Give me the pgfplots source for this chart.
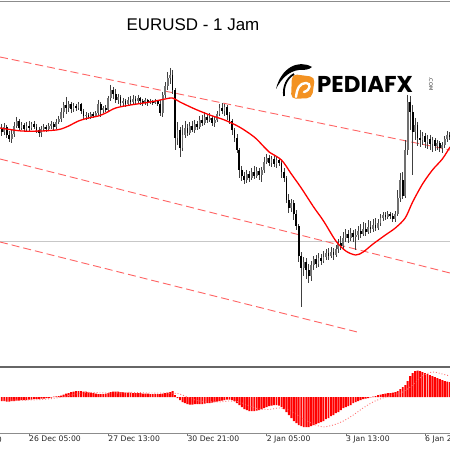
\documentclass[border=0pt]{standalone}
\usepackage{pgfplots}
\pgfplotsset{compat=1.18}
\usepackage{pgfplotstable}
\usepackage{fontspec}
\setmainfont{DejaVu Sans}
\newfontfamily\titlefont{Liberation Sans}
\newfontfamily\logofont{Poppins}
\definecolor{wick}{HTML}{404040}
\definecolor{bull}{HTML}{707070}
\definecolor{chan}{HTML}{FF6464}
\definecolor{logoorange}{HTML}{F39222}

% candles: bar index, open, high, low, close (chart pixel rows, top = 0)
\pgfplotstableread{
i o h l c
0 128 124 136 132
1 132 123 135 127
2 127 125 138 135
3 135 131 142 139
4 139 130 143 134
5 134 122 137 126
6 126 117 128 121
7 121 119 131 128
8 128 122 130 125
9 125 123 132 129
10 129 122 131 126
11 126 121 131 128
12 128 122 130 124
13 124 121 129 127
14 127 124 133 130
15 130 127 137 133
16 133 126 137 129
17 129 124 131 127
18 127 125 132 129
19 129 123 131 126
20 126 121 129 124
21 124 122 130 127
22 127 119 129 122
23 122 116 124 119
24 119 108 122 112
25 112 102 118 105
26 105 97 114 108
27 108 101 112 104
28 104 102 113 109
29 109 103 112 106
30 106 104 111 108
31 108 102 110 104
32 104 103 114 111
33 111 109 119 116
34 116 112 120 115
35 115 113 119 117
36 117 112 119 114
37 114 112 118 116
38 116 111 117 113
39 113 100 116 104
40 104 102 117 110
41 110 106 113 108
42 108 105 112 110
43 110 96 112 98
44 98 85 101 90
45 90 87 99 94
46 94 89 103 100
47 100 94 104 97
48 97 95 107 103
49 103 98 106 101
50 101 99 107 104
51 104 97 106 100
52 100 96 105 102
53 102 95 104 99
54 99 96 104 101
55 101 95 103 98
56 98 97 105 101
57 101 99 106 103
58 103 98 105 100
59 100 99 106 102
60 102 99 104 101
61 101 100 105 103
62 103 99 104 101
63 101 100 106 104
64 104 100 116 113
65 113 92 117 95
66 95 82 98 86
67 86 72 90 78
68 78 68 84 75
69 75 70 94 90
70 90 88 150 138
71 138 122 145 130
72 130 127 157 148
73 148 125 151 135
74 135 121 138 128
75 128 124 136 133
76 133 122 135 126
77 126 121 132 130
78 130 120 133 124
79 124 121 130 127
80 127 116 129 120
81 120 115 126 123
82 123 112 125 117
83 117 114 123 120
84 120 113 122 118
85 118 116 126 123
86 123 117 127 120
87 120 111 122 114
88 114 104 116 108
89 108 103 114 111
90 111 104 116 107
91 107 105 120 115
92 115 112 124 121
93 121 119 135 130
94 130 128 142 138
95 138 134 153 150
96 150 148 178 170
97 170 166 181 176
98 176 172 184 180
99 180 170 183 174
100 174 171 182 178
101 178 168 180 172
102 172 166 179 176
103 176 167 178 171
104 171 168 180 175
105 175 167 182 170
106 170 157 173 162
107 162 154 164 158
108 158 155 166 163
109 163 156 167 159
110 159 156 167 164
111 164 157 168 160
112 160 158 166 163
113 163 160 178 172
114 172 168 182 178
115 178 176 203 200
116 200 194 213 208
117 208 199 212 203
118 203 200 220 214
119 214 210 230 226
120 226 224 262 256
121 256 252 307 268
122 268 257 276 262
123 262 258 279 270
124 270 264 283 276
125 276 261 281 265
126 265 256 270 259
127 259 255 268 264
128 264 253 267 258
129 258 254 265 261
130 261 251 263 257
131 257 249 260 253
132 253 248 260 256
133 256 247 258 252
134 252 248 260 255
135 255 245 257 249
136 249 239 253 243
137 243 236 250 246
138 246 232 249 238
139 238 229 242 234
140 234 230 243 238
141 238 228 241 233
142 233 230 242 237
143 237 229 250 235
144 235 226 240 231
145 231 224 238 234
146 234 222 236 229
147 229 223 236 232
148 232 220 234 227
149 227 221 233 229
150 229 219 232 225
151 225 218 231 228
152 228 219 230 223
153 223 214 226 218
154 218 212 221 215
155 215 212 220 217
156 217 211 219 214
157 214 212 219 216
158 216 213 222 219
159 219 211 222 214
160 214 190 216 198
161 198 173 202 180
162 180 172 199 196
163 196 140 198 150
164 150 95 155 102
165 102 96 130 112
166 112 105 175 132
167 132 118 140 125
168 125 122 146 138
169 138 130 147 140
170 140 132 145 136
171 136 133 148 142
172 142 135 149 139
173 139 135 150 144
174 144 137 152 140
175 140 138 151 146
176 146 140 150 143
177 143 141 152 148
178 148 142 153 145
179 145 136 148 139
180 139 131 142 135
181 135 132 140 137
}\candles

\pgfplotstableread{
i y
-0.72 128
8 131
16 131
22 130
24 129
27 126
31 121
35 118
39 116
42 113
46 108
52 105
60 102
66 99
69 98
72 102
78 109
84 115
90 120
96 127
102 137
106 147
108 152
113 160
117 174
121 188
126 207
130 221
135 241
139 251
143 255
146 252
150 244
155 235
159 228
163 218
166 202
170 184
174 170
178 159
181.1 147
}\ma

\pgfplotstableread{
i m
0 -4
1 -4
2 -4.5
3 -4.5
4 -4
5 -4
6 -3.5
7 -3.5
8 -3
9 -3
10 -3
11 -2.5
12 -2.5
13 -2
14 -2
15 -2
16 -1.5
17 -1.5
18 -1
19 -1
20 -0.5
21 0.3
22 0.6
23 1
24 1.5
25 2.5
26 3.5
27 4
28 5
29 5.5
30 6
31 6
32 6
33 5.5
34 5.5
35 5
36 4.5
37 4
38 3.5
39 3
40 3
41 3
42 3.5
43 4
44 5
45 5.5
46 5.5
47 5.5
48 5
49 5
50 4.5
51 4.5
52 4.5
53 4
54 4
55 4
56 4
57 3.5
58 3.5
59 3.5
60 3
61 3
62 3
63 3
64 3
65 3.5
66 4
67 4.5
68 5
69 6
70 2
71 -1
72 -3
73 -5
74 -6
75 -7
76 -7.5
77 -7.5
78 -7
79 -7
80 -7
81 -7
82 -6.5
83 -6
84 -6
85 -5.5
86 -5
87 -4.5
88 -4
89 -3.5
90 -3
91 -2.5
92 -2.5
93 -3
94 -4
95 -6
96 -8
97 -10
98 -12
99 -13
100 -14
101 -14
102 -14
103 -13.5
104 -13
105 -12
106 -11
107 -10
108 -9
109 -8.5
110 -8
111 -8
112 -8.5
113 -10
114 -12
115 -15
116 -18
117 -21
118 -24
119 -26
120 -28
121 -29
122 -30
123 -30
124 -30
125 -29
126 -28
127 -27
128 -26
129 -25
130 -24
131 -22
132 -21
133 -19
134 -18
135 -16
136 -15
137 -13
138 -11
139 -10
140 -9
141 -8
142 -6
143 -5
144 -4
145 -3
146 -2
147 -1.5
148 -1
149 -0.4
150 0.5
151 1
152 2
153 2.5
154 3
155 3.5
156 4
157 4
158 4.5
159 5
160 6
161 8
162 10
163 12
164 16
165 21
166 24
167 26
168 26.5
169 26
170 25
171 24
172 23
173 22
174 21
175 20
176 19
177 18
178 17
179 16
180 15.5
181 15
}\macd

\pgfplotstableread{
i s
0 -3
8 -3.2
16 -2.5
22 -1
28 2
34 4.5
40 4.2
46 4
52 4.6
60 4
68 3.8
71 3.5
74 1
78 -3
82 -4.5
88 -5
92 -4
96 -5
100 -9
104 -12
108 -12.5
112 -11
116 -13
120 -19
124 -25
128 -29
130 -30
134 -28
138 -24
142 -18
146 -11
150 -5
154 -1
158 2
162 5
166 12
170 21
174 25
178 23
181 21
}\signal

\begin{document}
\begin{tikzpicture}
\useasboundingbox (0,0) rectangle (450bp,450bp);
\fill[white] (0,0) rectangle (450bp,450bp);

% price window
\begin{axis}[
  at={(0,84bp)}, anchor=south west,
  width=450bp, height=366bp, scale only axis,
  xmin=-0.72, xmax=181.1, ymin=0, ymax=366, y dir=reverse,
  axis lines=none, clip=true,
]
\addplot[black!22, line width=0.8bp] coordinates {(-0.72,241) (181.1,241)};
\addplot[chan, line width=0.9bp, dash pattern=on 8bp off 4bp] coordinates {(-0.72,57) (181.1,150)};
\addplot[chan, line width=0.9bp, dash pattern=on 8bp off 4bp] coordinates {(-0.72,159) (181.1,273)};
\addplot[chan, line width=0.9bp, dash pattern=on 8bp off 4bp] coordinates {(-0.72,242) (143.6,332)};
% wicks
\addplot[wick, line width=0.8bp, mark=none,
  quiver={u=0, v=\thisrow{l}-\thisrow{h}}] table[x=i, y=h] {\candles};
% bull bodies
\addplot[bull, line width=1.8bp, mark=none,
  restrict expr to domain={\thisrow{c}-\thisrow{o}}{-500:-0.1},
  quiver={u=0, v=\thisrow{c}-\thisrow{o}}] table[x=i, y=o] {\candles};
% bear bodies
\addplot[black, line width=1.8bp, mark=none,
  restrict expr to domain={\thisrow{c}-\thisrow{o}}{0.1:500},
  quiver={u=0, v=\thisrow{c}-\thisrow{o}}] table[x=i, y=o] {\candles};
% moving average
\addplot[red, line width=1.3bp, smooth] table[x=i, y=y] {\ma};
\end{axis}

% MACD window
\begin{axis}[
  at={(0,17bp)}, anchor=south west,
  width=450bp, height=66bp, scale only axis,
  xmin=-0.72, xmax=181.1, ymin=-36, ymax=30,
  axis y line=none, axis x line*=bottom,
  x axis line style={black!45, line width=0.6bp, -},
  xtick={11,43,75,107,139,171},
  xticklabels={26 Dec 05:00, 27 Dec 13:00, 30 Dec 21:00, 2 Jan 05:00, 3 Jan 13:00, 6 Jan 21:00},
  xtick align=outside, major tick length=3bp,
  tick style={black!55, line width=0.6bp},
  xticklabel style={anchor=north west, inner sep=0pt, text=black!85,
    font=\fontsize{7.7}{8}\selectfont},
  clip=false,
]
\addplot[ybar, bar width=1.9bp, fill=red, draw=none] table[x=i, y=m] {\macd};
\addplot[red!55, dotted, line width=0.9bp, smooth] table[x=i, y=s] {\signal};
\end{axis}

% frames
\draw[black!45, line width=1bp] (0,448bp) -- (450bp,448bp);
\draw[black!60, line width=2bp] (0,83bp) -- (450bp,83bp);
\node[anchor=north west, inner sep=0pt, text=black!85, font=\fontsize{7.7}{8}\selectfont]
  at (-50bp,13bp) {24 Dec 21:00};

% title
\node[font=\titlefont\fontsize{17}{20}\selectfont] at (193bp,425bp) {EURUSD - 1 Jam};

% logo
\begin{scope}[x=1bp, y=-1bp, shift={(0,450bp)}]
  \fill[logoorange, rounded corners=5bp] (291,99) -- (292,74) -- (315,77) -- (312,98) -- cycle;
  \draw[white, line width=2.4bp, line cap=round] (296,97) .. controls (297,88) and (300,83) .. (306,83) .. controls (311,83) and (311,90) .. (304,92);
  \fill[black] (312,67) .. controls (298,59) and (281,68) .. (276,89)
     .. controls (281,79) and (289,71) .. (299,70) .. controls (304,70) and (309,70) .. (312,67) -- cycle;
  \draw[black, line width=1.8bp] (284,96) .. controls (283,86) and (287,78) .. (294,74);
  \node[anchor=west, inner sep=0pt, font=\logofont\bfseries\fontsize{23}{24}\selectfont] at (317,84.5) {PEDIAFX};
  \node[rotate=-90, inner sep=0pt, font=\fontsize{5}{6}\selectfont, text=black!80] at (431,84) {.COM};
\end{scope}
\end{tikzpicture}
\end{document}
